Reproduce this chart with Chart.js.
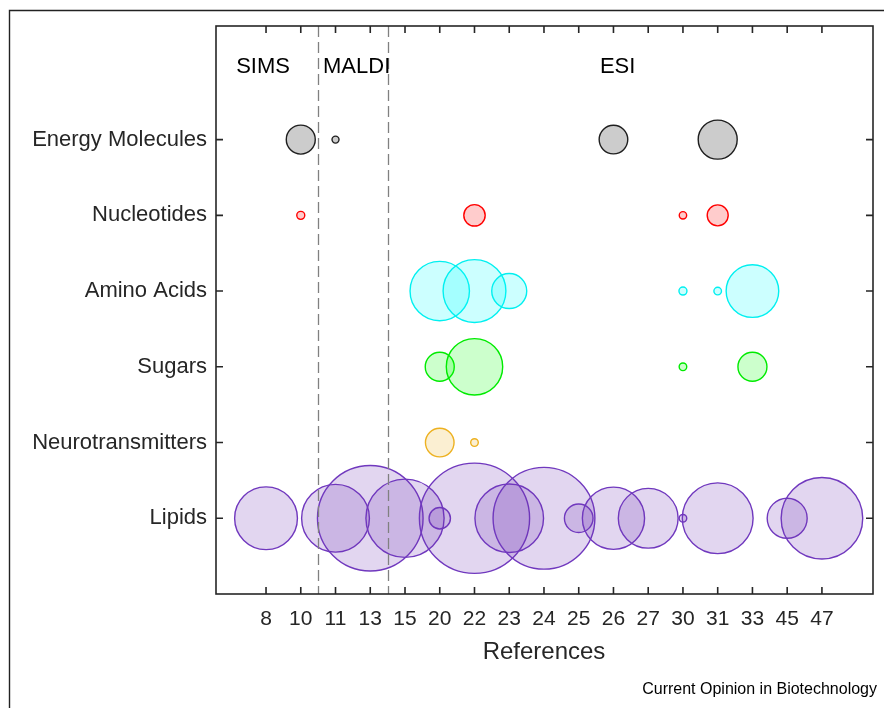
<!DOCTYPE html>
<html>
<head>
<meta charset="utf-8">
<script src="https://cdn.jsdelivr.net/npm/chart.js@4/dist/chart.umd.min.js"></script>
<style>
  html, body { margin: 0; padding: 0; background: #fff; }
  #wrap { width: 884px; height: 708px; position: relative; }
</style>
</head>
<body>
<div id="wrap"><canvas id="c" width="884" height="708"></canvas></div>
<script>
// ---- data ----
const references = ['8','10','11','13','15','20','22','23','24','25','26','27','30','31','33','45','47'];
const classes = ['Energy Molecules','Nucleotides','Amino Acids','Sugars','Neurotransmitters','Lipids']; // top to bottom

// [reference, bubble radius]
const energyMolecules   = [['10',14.5],['11',3.5],['26',14.3],['31',19.5]];
const nucleotides       = [['10',4],['22',10.7],['30',3.7],['31',10.5]];
const aminoAcids        = [['20',29.7],['22',31.4],['23',17.5],['30',4],['31',3.8],['33',26.3]];
const sugars            = [['20',14.5],['22',28.2],['30',3.8],['33',14.5]];
const neurotransmitters = [['20',14.3],['22',3.8]];
const lipids            = [['8',31.4],['11',33.9],['13',52.8],['15',39.1],['20',10.7],['22',55.1],['23',34.3],
                           ['24',50.9],['25',14.3],['26',31.1],['27',29.9],['30',3.8],['31',35.4],['45',20],['47',40.8]];

const methods = ['SIMS','MALDI','ESI'];
const methodLabelX = [-0.86, 1.64, 9.61];   // in reference-index units
const methodBounds = [1.5, 3.5];             // dashed separators between method groups

// ---- styles ----
const seriesList = [
  { name: 'Energy Molecules',  data: energyMolecules,   fill: 'rgba(0,0,0,0.2)',        stroke: 'rgb(30,30,30)' },
  { name: 'Nucleotides',       data: nucleotides,       fill: 'rgba(255,0,0,0.2)',      stroke: 'rgb(255,0,0)' },
  { name: 'Amino Acids',       data: aminoAcids,        fill: 'rgba(0,255,255,0.2)',    stroke: 'rgb(0,240,240)' },
  { name: 'Sugars',            data: sugars,            fill: 'rgba(0,255,0,0.2)',      stroke: 'rgb(0,235,0)' },
  { name: 'Neurotransmitters', data: neurotransmitters, fill: 'rgba(237,177,32,0.2)',   stroke: 'rgb(237,177,32)' },
  { name: 'Lipids',            data: lipids,            fill: 'rgba(110,50,180,0.2)',   stroke: 'rgb(112,56,190)' }
];

const FONT = '"Liberation Sans", Arial, Helvetica, sans-serif';
const AXIS_COLOR = '#262626';
const yOf = name => classes.length - classes.indexOf(name);

const datasets = seriesList.map(s => ({
  label: s.name,
  data: s.data.map(([ref, r]) => ({ x: references.indexOf(ref), y: yOf(s.name), r })),
  backgroundColor: s.fill,
  borderColor: s.stroke,
  borderWidth: 1.4,
  hoverRadius: 0,
  clip: false
}));

const decor = {
  id: 'decor',
  afterDatasetsDraw(chart) {
    const { ctx, chartArea: a, scales: { x, y } } = chart;
    ctx.save();
    // dashed separators
    ctx.strokeStyle = 'rgb(128,128,128)';
    ctx.lineWidth = 1.3;
    ctx.setLineDash([11, 5]);
    methodBounds.forEach(v => {
      const px = Math.round(x.getPixelForValue(v)) + 0.5;
      ctx.beginPath(); ctx.moveTo(px, a.top); ctx.lineTo(px, a.bottom); ctx.stroke();
    });
    ctx.setLineDash([]);
    // method labels
    ctx.fillStyle = '#000';
    ctx.font = '22px ' + FONT;
    ctx.textBaseline = 'middle';
    ctx.textAlign = 'left';
    methods.forEach((m, i) => {
      ctx.fillText(m, x.getPixelForValue(methodLabelX[i]), y.getPixelForValue(7) + 3);
    });
    ctx.restore();
  },
  afterDraw(chart) {
    const { ctx, chartArea: a, scales: { x, y } } = chart;
    ctx.save();
    ctx.strokeStyle = AXIS_COLOR;
    ctx.lineWidth = 1.6;
    ctx.strokeRect(a.left, a.top, a.right - a.left, a.bottom - a.top);
    const tl = 7;
    ctx.lineWidth = 1.6;
    ctx.beginPath();
    x.ticks.forEach(t => {
      const px = x.getPixelForValue(t.value);
      ctx.moveTo(px, a.bottom); ctx.lineTo(px, a.bottom - tl);
      ctx.moveTo(px, a.top); ctx.lineTo(px, a.top + tl);
    });
    y.ticks.forEach(t => {
      const py = y.getPixelForValue(t.value);
      ctx.moveTo(a.left, py); ctx.lineTo(a.left + tl, py);
      ctx.moveTo(a.right, py); ctx.lineTo(a.right - tl, py);
    });
    ctx.stroke();
    // x axis title
    ctx.fillStyle = AXIS_COLOR;
    ctx.font = '24px ' + FONT;
    ctx.textAlign = 'center';
    ctx.textBaseline = 'middle';
    ctx.fillText('References', 544, 652);
    // caption
    ctx.fillStyle = '#000';
    ctx.font = '16px ' + FONT;
    ctx.textAlign = 'right';
    ctx.fillText('Current Opinion in Biotechnology', 877, 690);
    // outer frame
    ctx.strokeStyle = '#222';
    ctx.lineWidth = 1.4;
    ctx.beginPath();
    ctx.moveTo(9.5, 708); ctx.lineTo(9.5, 10.5); ctx.lineTo(884, 10.5);
    ctx.stroke();
    ctx.restore();
  }
};

new Chart(document.getElementById('c'), {
  type: 'bubble',
  data: { datasets },
  options: {
    responsive: false,
    animation: false,
    events: [],
    layout: { autoPadding: false, padding: { top: 26, right: 11, left: 0, bottom: 0 } },
    plugins: { legend: { display: false }, tooltip: { enabled: false } },
    scales: {
      x: {
        type: 'linear',
        min: -1.44, max: 17.47,
        afterBuildTicks: s => { s.ticks = references.map((_, i) => ({ value: i })); },
        afterFit: s => { s.height = 114; },
        grid: { display: false, drawTicks: false, tickLength: 0 },
        border: { display: false },
        ticks: {
          autoSkip: false, maxRotation: 0, padding: 13,
          color: AXIS_COLOR, font: { family: FONT, size: 21 },
          callback: v => references[v] ?? ''
        }
      },
      y: {
        type: 'linear',
        min: 0, max: 7.5,
        afterBuildTicks: s => { s.ticks = classes.map((_, i) => ({ value: i + 1 })); },
        afterFit: s => { s.width = 216; },
        grid: { display: false, drawTicks: false, tickLength: 0 },
        border: { display: false },
        ticks: {
          autoSkip: false, padding: 9,
          color: AXIS_COLOR, font: { family: FONT, size: 22 },
          callback: v => classes[classes.length - v] ?? ''
        }
      }
    }
  },
  plugins: [decor]
});
</script>
</body>
</html>
